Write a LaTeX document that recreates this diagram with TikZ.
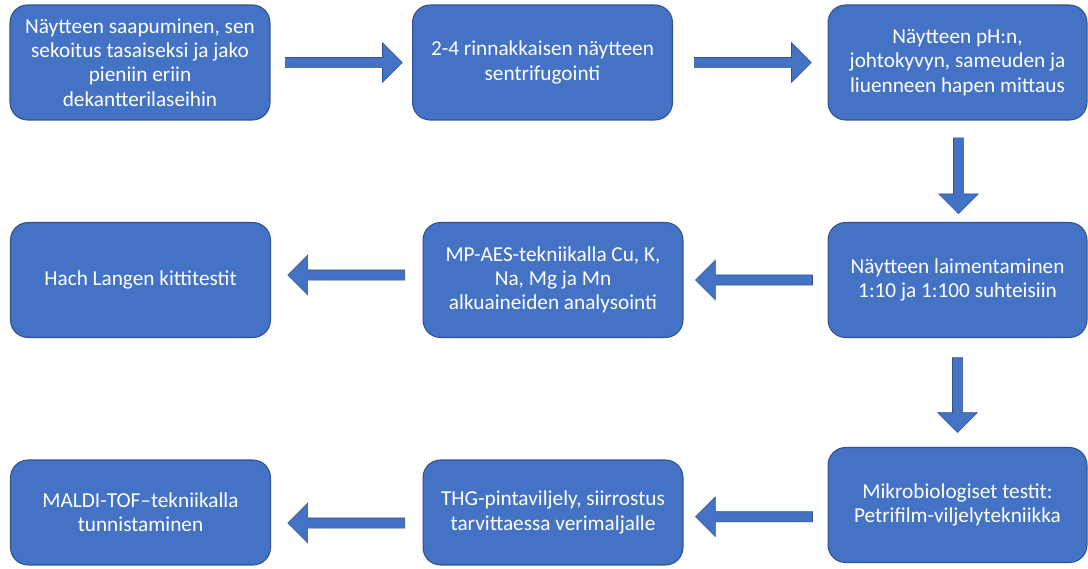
\documentclass[tikz,border=0pt]{standalone}
\usepackage{fontspec}
\setmainfont{Carlito}
\usepackage{tikz}
\usetikzlibrary{shapes.arrows,positioning,calc}
\definecolor{boxblue}{HTML}{4472C4}
\definecolor{boxborder}{HTML}{2F528F}
\tikzset
{
    stepbox/.style   = {rectangle, rounded corners=10pt, draw=boxborder, line width=0.6pt, fill=boxblue, text=white, align=center, minimum width=5.2cm, minimum height=2.3cm, inner sep=2pt, font=\fontsize{12.1}{13.8}\selectfont},
    flowarrow/.style = {single arrow, draw=boxborder, line width=0.3pt, fill=boxblue, inner sep=0.095cm, minimum height=2.34cm, single arrow head extend=0.295cm},
    downarrow/.style = {flowarrow, minimum height=1.52cm, shape border rotate=270},
    leftarrow/.style = {flowarrow, shape border rotate=180}
}

\begin{document}
\begin{tikzpicture}[x=0.02cm, y=-0.02cm]
    \useasboundingbox (0,0) rectangle (1088,568);
    % first row
    \node [stepbox] (saapuminen) at (140,62.5) {Näytteen saapuminen, sen\\sekoitus tasaiseksi ja jako\\pieniin eriin\\dekantterilaseihin};
    \node [stepbox] (sentrifugointi) at (542.5,62.5) {2-4 rinnakkaisen näytteen\\sentrifugointi};
    \node [stepbox, minimum width=5.18cm] (mittaus) at (957.5,62.5) {Näytteen pH:n,\\johtokyvyn, sameuden ja\\liuenneen hapen mittaus};
    % second row
    \node [stepbox, minimum width=5.18cm] (laimentaminen) at (957.5,280) {Näytteen laimentaminen\\1:10 ja 1:100 suhteisiin};
    \node [stepbox] (mpaes) at (553,280) {MP-AES-tekniikalla Cu, K,\\Na, Mg ja Mn\\alkuaineiden analysointi};
    \node [stepbox] (hach) at (140.5,280) {Hach Langen kittitestit};
    % third row
    \node [stepbox, minimum width=5.18cm] (mikrobiologia) at (957.5,505) {Mikrobiologiset testit:\\Petrifilm-viljelytekniikka};
    \node [stepbox, minimum height=2.1cm] (viljely) at (553,512.5) {THG-pintaviljely, siirrostus\\tarvittaessa verimaljalle};
    \node [stepbox, minimum height=2.1cm] (maldi) at (140.5,512.5) {MALDI-TOF–tekniikalla\\tunnistaminen};

    % block arrows
    \node [flowarrow] (a1) at ($(saapuminen.east)!0.5!(sentrifugointi.west)$) {};
    \node [flowarrow] (a2) at ($(sentrifugointi.east)!0.5!(mittaus.west)$) {};
    \node [downarrow] (a3) at ($(mittaus.south)!0.5!(laimentaminen.north)+(1,2)$) {};
    \node [leftarrow] (a4) at ($(laimentaminen.west)!0.5!(mpaes.east)+(1,0)$) {};
    \node [leftarrow] (a5) at ($(mpaes.west)!0.5!(hach.east)+(2,-5)$) {};
    \node [downarrow, minimum height=1.5cm] (a6) at ($(laimentaminen.south)!0.5!(mikrobiologia.north)$) {};
    \node [leftarrow] (a7) at ($(mikrobiologia.west)!0.5!(viljely.east)+(1,8)$) {};
    \node [leftarrow] (a8) at ($(viljely.west)!0.5!(maldi.east)+(2,10.5)$) {};
\end{tikzpicture}
\end{document}
